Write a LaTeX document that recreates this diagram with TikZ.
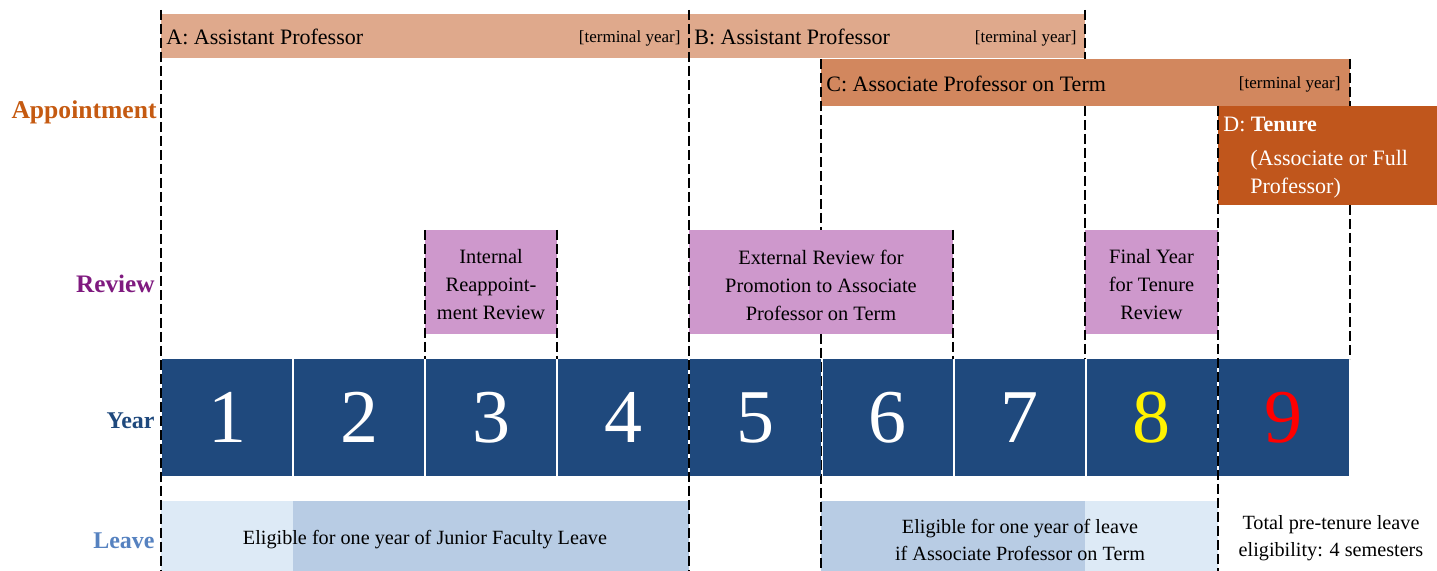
\documentclass[tikz,border=0pt]{standalone}
\usepackage{fontspec}
\setmainfont{Liberation Serif}
\usetikzlibrary{positioning}

\definecolor{apptA}{HTML}{DFA98C}
\definecolor{apptC}{HTML}{D2875E}
\definecolor{apptD}{HTML}{C0561C}
\definecolor{revfill}{HTML}{CE98CC}
\definecolor{yearfill}{HTML}{1F497D}
\definecolor{leavelight}{HTML}{DDEAF6}
\definecolor{leavedark}{HTML}{B8CCE4}
\definecolor{apptlabel}{HTML}{C55A11}
\definecolor{revlabel}{HTML}{7F1A7F}
\definecolor{leavelabel}{HTML}{5682C0}

\begin{document}
\begin{tikzpicture}[x=0.5pt, y=-0.5pt,
    row label/.style={anchor=east, inner sep=0pt, font=\fontsize{12}{14}\selectfont\bfseries},
    appt bar/.style={anchor=north west, inner sep=0pt, minimum height=22pt},
    bar label/.style={anchor=west, inner sep=0pt, font=\fontsize{11}{14}\selectfont},
    term label/.style={anchor=east, inner sep=0pt, yshift=-1pt, font=\fontsize{8.5}{10}\selectfont},
    review box/.style={fill=revfill, minimum height=52pt, inner sep=0pt},
    review text/.style={align=center, inner sep=0pt, yshift=-1.5pt, font=\fontsize{10.2}{14}\selectfont},
    year box/.style={fill=yearfill, minimum width=65pt, minimum height=58.5pt, inner sep=0pt,
      text=white, font=\fontsize{38}{40}\selectfont},
    year 8/.style={text=yellow},
    year 9/.style={text=red},
    leave text/.style={align=center, inner sep=0pt, font=\fontsize{10.1}{13.5}\selectfont},
    guide/.style={black, line width=1.1pt, dash pattern=on 5pt off 2pt}
  ]
        \useasboundingbox (0,0) rectangle (1437,571);

        % appointment bars
        \node [appt bar, fill=apptA, minimum width=264pt] (appt-A) at (161,14) {};
        \node [appt bar, fill=apptA, minimum width=198pt] (appt-B) at (689,14) {};
        \node [appt bar, fill=apptC, minimum width=264.5pt, minimum height=23.5pt] (appt-C) at (821,59) {};
        \node [appt bar, fill=apptD, minimum width=109.5pt, minimum height=49.5pt] (appt-D) at (1218,106) {};

        \node [bar label, right=2.5pt of appt-A.west, yshift=-0.5pt] (lab-A) {A: Assistant Professor};
        \node [bar label, right=2.5pt of appt-B.west, yshift=-0.5pt] (lab-B) {B: Assistant Professor};
        \node [bar label, right=2.5pt of appt-C.west, yshift=-0.5pt] (lab-C) {C: Associate Professor on Term};
        \node [term label, left=4.5pt of appt-A.east] (term-A) {[terminal year]};
        \node [term label, left=4.5pt of appt-B.east] (term-B) {[terminal year]};
        \node [term label, left=5pt of appt-C.east] (term-C) {[terminal year]};
        \node [bar label, text=white] (lab-D) at (1223,124) {D: \textbf{Tenure}};
        \node [bar label, text=white, align=left] (lab-D-rank) at (1250,174) {(Associate or Full\\Professor)};

        % review boxes
        \node [review box, minimum width=66pt] (rev-internal) at (491,282) {};
        \node [review box, minimum width=132pt] (rev-external) at (821,282) {};
        \node [review box, minimum width=66.5pt] (rev-final) at (1151.5,282) {};
        \node [review text] (rev-internal-text) at (rev-internal) {Internal\\Reappoint-\\ment Review};
        \node [review text] (rev-external-text) at (rev-external) {External Review for\\Promotion to Associate\\Professor on Term};
        \node [review text] (rev-final-text) at (rev-final) {Final Year\\for Tenure\\Review};

        % leave bands
        \fill [leavelight] (161,501) rectangle (293,571);
        \fill [leavedark] (293,501) rectangle (689,571);
        \fill [leavedark] (821,501) rectangle (1085,571);
        \fill [leavelight] (1085,501) rectangle (1218,571);

        \node [leave text] (leave-junior) at (425,540) {Eligible for one year of Junior Faculty Leave};
        \node [leave text] (leave-assoc) at (1020,539.5) {Eligible for one year of leave\\if Associate Professor on Term};
        \node [leave text] (leave-total) at (1331,538) {Total pre-tenure leave\\eligibility: 4 semesters};

        % dashed year boundaries
        \foreach \x/\a/\b in {161/10/571, 425/230/359, 557/230/359, 689/10/571,
                              821/59/230, 821/334/571, 953/230/359, 1085/10/59, 1085/106/359,
                              1218/106/571, 1350/59/106, 1350/205/359}
        \draw [guide] (\x,\a) -- (\x,\b);

        % years
        \foreach \n [count=\i] in {1,...,9}
        \node [year box, year \n/.try] (year-\n) at ({161+132.11*(\i-0.5)},417.5) {\raisebox{-1pt}{\n}};

        % row labels
        \node [row label, text=apptlabel, font=\fontsize{12.8}{14}\selectfont\bfseries] (row-appt) at (157,112) {Appointment};
        \node [row label, text=revlabel, font=\fontsize{12.6}{14}\selectfont\bfseries] (row-review) at (155,284) {Review};
        \node [row label, text=yearfill] (row-year) at (155,421) {Year};
        \node [row label, text=leavelabel] (row-leave) at (155,541) {Leave};

\end{tikzpicture}
\end{document}
